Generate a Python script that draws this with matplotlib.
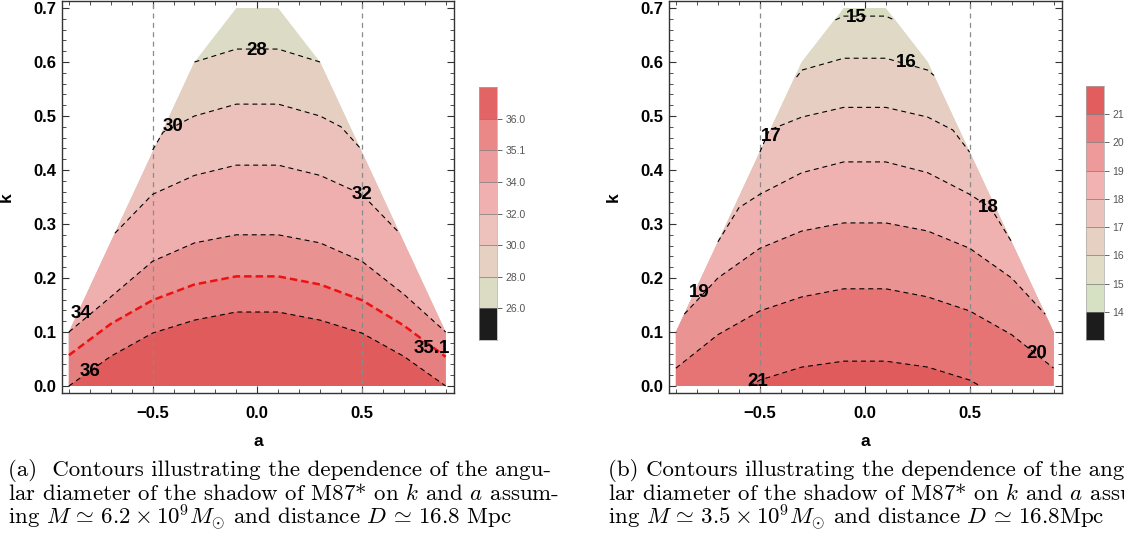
import matplotlib
matplotlib.use("Agg")
import matplotlib.pyplot as plt
from matplotlib.patches import Polygon
from matplotlib.ticker import MultipleLocator

# allowed (a, k) region, same for both panels
domain_a = [-0.9, -0.9, -0.3, -0.1, 0.1, 0.3, 0.9, 0.9]
domain_k = [0.0, 0.1, 0.6, 0.7, 0.7, 0.6, 0.1, 0.0]

# ---- panel (a): M = 6.2e9 Msun ----
levels_a = ["28", "30", "32", "34", "35.1", "36"]
c28_a = ([-0.3, -0.1, 0.1, 0.3], [0.6, 0.624, 0.624, 0.6])
c30_a = ([-0.5, -0.45, -0.3, -0.1, 0.1, 0.3, 0.4, 0.5], [0.437, 0.47, 0.50, 0.522, 0.522, 0.50, 0.48, 0.437])
c32_a = ([-0.68, -0.5, -0.3, -0.1, 0.1, 0.3, 0.5, 0.68], [0.283, 0.355, 0.39, 0.409, 0.409, 0.39, 0.355, 0.283])
c34_a = ([-0.9, -0.7, -0.5, -0.3, -0.1, 0.1, 0.3, 0.5, 0.7, 0.9], [0.1, 0.165, 0.231, 0.265, 0.28, 0.28, 0.265, 0.231, 0.17, 0.1])
c351_a = ([-0.9, -0.7, -0.5, -0.3, -0.1, 0.1, 0.3, 0.5, 0.7, 0.9], [0.057, 0.115, 0.159, 0.188, 0.203, 0.203, 0.188, 0.159, 0.112, 0.054])
c36_a = ([-0.9, -0.7, -0.5, -0.3, -0.1, 0.1, 0.3, 0.5, 0.7, 0.9], [0.0, 0.055, 0.098, 0.122, 0.137, 0.137, 0.122, 0.098, 0.055, 0.0])
label_pos_a = [(0.0, 0.622), (-0.405, 0.48), (0.5, 0.355), (-0.84, 0.135), (0.835, 0.07), (-0.8, 0.026)]
bands_a = ["#dcdcc6", "#e4cfc1", "#ecc1bb", "#eeafae", "#e99292", "#e67f7f", "#e05b5b"]
cbar_a_colors = ["#1c1c1c", "#dcdcc4", "#e6d0c2", "#edc2bc", "#f0b0b0", "#ec9c9c", "#ea8888", "#e36464"]
cbar_a_ticks = ["26.0", "28.0", "30.0", "32.0", "34.0", "35.1", "36.0"]

# ---- panel (b): M = 3.5e9 Msun ----
levels_b = ["15", "16", "17", "18", "19", "20", "21"]
c15_b = ([-0.14, -0.1, 0.1, 0.14], [0.678, 0.685, 0.685, 0.678])
c16_b = ([-0.325, -0.3, -0.1, 0.1, 0.3, 0.33], [0.572, 0.585, 0.607, 0.607, 0.585, 0.575])
c17_b = ([-0.5, -0.455, -0.3, -0.1, 0.1, 0.3, 0.42, 0.5], [0.433, 0.474, 0.498, 0.516, 0.516, 0.498, 0.474, 0.433])
c18_b = ([-0.7, -0.6, -0.5, -0.3, -0.1, 0.1, 0.3, 0.5, 0.6, 0.7], [0.267, 0.33, 0.355, 0.395, 0.415, 0.415, 0.395, 0.355, 0.33, 0.267])
c19_b = ([-0.86, -0.7, -0.5, -0.3, -0.1, 0.1, 0.3, 0.5, 0.7, 0.86], [0.133, 0.2, 0.255, 0.287, 0.302, 0.302, 0.287, 0.255, 0.2, 0.133])
c20_b = ([-0.9, -0.7, -0.5, -0.3, -0.1, 0.1, 0.3, 0.5, 0.7, 0.9], [0.033, 0.095, 0.139, 0.165, 0.18, 0.18, 0.165, 0.139, 0.095, 0.033])
c21_b = ([-0.55, -0.5, -0.3, -0.1, 0.1, 0.3, 0.5, 0.55], [0.0, 0.011, 0.035, 0.046, 0.046, 0.035, 0.011, 0.0])
label_pos_b = [(-0.04, 0.682), (0.2, 0.6), (-0.445, 0.462), (0.59, 0.331), (-0.79, 0.174), (0.82, 0.061), (-0.51, 0.008)]
bands_b = ["#d8dcc0", "#dfd9c5", "#e6cfc2", "#ecc1bc", "#f0b1b1", "#e99393", "#e67474", "#e05c5c"]
cbar_b_colors = ["#1c1c1c", "#d6e0c2", "#e0dcc6", "#e6d0c2", "#ecc2bc", "#f2b2b2", "#ee9a9a", "#e87c7c", "#e25e5e"]
cbar_b_ticks = ["14", "15", "16", "17", "18", "19", "20", "21"]

captions_a = [
    r"(a)  Contours illustrating the dependence of the angu-",
    r"lar diameter of the shadow of M87* on $k$ and $a$ assum-",
    r"ing $M \,\simeq\, 6.2 \times 10^9 M_{\odot}$ and distance $D \,\simeq\, 16.8$ Mpc",
]
captions_b = [
    r"(b) Contours illustrating the dependence of the angu-",
    r"lar diameter of the shadow of M87* on $k$ and $a$ assum-",
    r"ing $M \,\simeq\, 3.5 \times 10^9 M_{\odot}$ and distance $D \,\simeq\, 16.8$Mpc",
]

SANS = "Liberation Sans"
SERIF = "cmr10"


def region_below(a, k):
    # polygon under one contour line, closed well outside the domain (clipped later)
    pts = list(zip(a, k))
    if k[-1] > 0:
        pts += [(a[-1], 1.0), (1.0, 1.0), (1.0, -0.1)]
    else:
        pts += [(a[-1], -0.1)]
    if k[0] > 0:
        pts += [(-1.0, -0.1), (-1.0, 1.0), (a[0], 1.0)]
    else:
        pts += [(a[0], -0.1)]
    return pts


def draw_panel(ax, lines, labels, label_pos, bands, red_level=None):
    dom = Polygon(list(zip(domain_a, domain_k)), closed=True, facecolor=bands[0],
                  edgecolor="none", zorder=1)
    ax.add_patch(dom)
    for (a, k), color in zip(lines, bands[1:]):
        patch = Polygon(region_below(a, k), closed=True, facecolor=color,
                        edgecolor="none", zorder=1)
        ax.add_patch(patch)
        patch.set_clip_path(dom)

    for (a, k), lab in zip(lines, labels):
        if lab == red_level:
            ax.plot(a, k, color="#ee1111", lw=1.8, linestyle=(0, (3.0, 1.6)), zorder=3)
        else:
            ax.plot(a, k, color="black", lw=0.8, linestyle=(0, (4.5, 3.5)), zorder=3)

    for x in (-0.5, 0.5):
        ax.axvline(x, color="#8a8a8a", lw=0.9, linestyle=(0, (4, 3.5)), zorder=2)

    for lab, (x, y) in zip(labels, label_pos):
        ax.text(x, y, lab, ha="center", va="center", fontsize=13.5, fontweight="bold",
                family=SANS, zorder=4)

    ax.set_xlim(-0.933, 0.94)
    ax.set_ylim(-0.013, 0.713)
    ax.xaxis.set_major_locator(MultipleLocator(0.5))
    ax.xaxis.set_minor_locator(MultipleLocator(0.1))
    ax.yaxis.set_major_locator(MultipleLocator(0.1))
    ax.yaxis.set_minor_locator(MultipleLocator(0.02))
    ax.tick_params(which="both", direction="in", top=True, right=True, color="#333333")
    ax.tick_params(which="major", length=5, width=0.8, labelsize=12, pad=4)
    ax.tick_params(axis="x", which="major", pad=9)
    ax.tick_params(which="minor", length=2.8, width=0.6)
    for lab in ax.get_xticklabels() + ax.get_yticklabels():
        lab.set_fontweight("bold")
        lab.set_family(SANS)
    ax.xaxis.set_major_formatter(plt.FuncFormatter(lambda v, p: f"{v:.1f}".replace("-", "\u2212")))
    ax.yaxis.set_major_formatter(plt.FuncFormatter(lambda v, p: f"{v:.1f}"))
    for sp in ax.spines.values():
        sp.set_color("#333333")
        sp.set_linewidth(1.0)
    ax.set_xlabel("a", fontsize=12.5, fontweight="bold", family=SANS, labelpad=10)
    ax.set_ylabel("k", fontsize=12.5, fontweight="bold", family=SANS, labelpad=14)


def draw_colorbar(cax, colors, ticks):
    n = len(colors)
    for i, c in enumerate(colors):
        cax.axhspan(i, i + 1, color=c, lw=0)
    for i in range(1, n):
        cax.axhline(i, color="#777777", lw=0.7, alpha=0.7)
    cax.set_xlim(0, 1)
    cax.set_ylim(0, n)
    cax.set_xticks([])
    cax.set_yticks(range(1, n))
    cax.set_yticklabels(ticks)
    cax.yaxis.tick_right()
    cax.tick_params(axis="y", direction="out", length=3.5, width=0.7, color="#666666",
                    labelcolor="#555555", labelsize=7.5, pad=2.5)
    for lab in cax.get_yticklabels():
        lab.set_family(SANS)
    for sp in cax.spines.values():
        sp.set_color("#aaaaaa")
        sp.set_linewidth(0.5)


def main() -> None:
    plt.rcParams["mathtext.fontset"] = "cm"
    plt.rcParams["axes.unicode_minus"] = True
    W, H = 1124, 537
    fig = plt.figure(figsize=(W / 100, H / 100), dpi=100)

    ax_a = fig.add_axes([62 / W, 1 - 393 / H, 392 / W, 392 / H])
    ax_b = fig.add_axes([669 / W, 1 - 393 / H, 393 / W, 392 / H])

    draw_panel(ax_a, [c28_a, c30_a, c32_a, c34_a, c351_a, c36_a], levels_a, label_pos_a,
               bands_a, red_level="35.1")
    draw_panel(ax_b, [c15_b, c16_b, c17_b, c18_b, c19_b, c20_b, c21_b], levels_b, label_pos_b,
               bands_b)

    cax_a = fig.add_axes([479 / W, 1 - 340 / H, 18 / W, 253 / H])
    cax_b = fig.add_axes([1086 / W, 1 - 340 / H, 18 / W, 254 / H])
    draw_colorbar(cax_a, cbar_a_colors, cbar_a_ticks)
    draw_colorbar(cax_b, cbar_b_colors, cbar_b_ticks)

    for i, line in enumerate(captions_a):
        fig.text(8 / W, 1 - (476 + 24.5 * i) / H, line, family=SERIF, fontsize=16.5, va="baseline")
    for i, line in enumerate(captions_b):
        fig.text(608 / W, 1 - (476 + 24.5 * i) / H, line, family=SERIF, fontsize=16.5, va="baseline")

    fig.savefig("out.png", dpi=100)
    plt.close(fig)


if __name__ == "__main__":
    main()
